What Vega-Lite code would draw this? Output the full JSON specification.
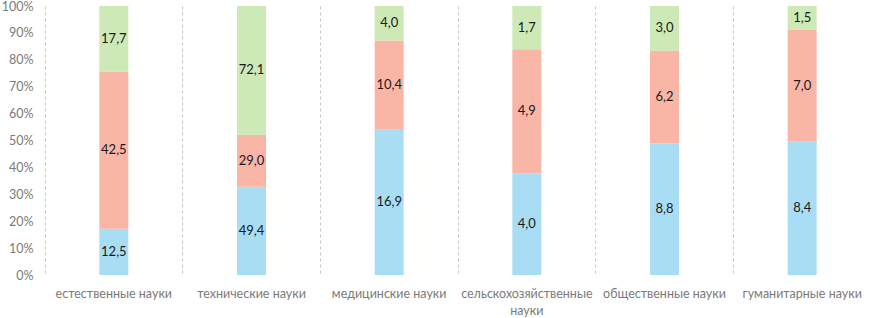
{
  "$schema": "https://vega.github.io/schema/vega-lite/v6.json",
  "width": 826,
  "height": 269,
  "autosize": {"type": "none"},
  "padding": {"left": 45, "top": 6, "right": 0, "bottom": 43},
  "config": {
    "view": {"stroke": null},
    "font": "Lato",
    "axis": {"labelOverlap": false},
    "locale": {"number": {"decimal": ",", "thousands": " ", "grouping": [3], "currency": ["", ""]}}
  },
  "data": {
    "values": [
      {"область": "естественные науки", "серия": "1", "значение": 12.5},
      {"область": "естественные науки", "серия": "2", "значение": 42.5},
      {"область": "естественные науки", "серия": "3", "значение": 17.7},
      {"область": "технические науки", "серия": "1", "значение": 49.4},
      {"область": "технические науки", "серия": "2", "значение": 29.0},
      {"область": "технические науки", "серия": "3", "значение": 72.1},
      {"область": "медицинские науки", "серия": "1", "значение": 16.9},
      {"область": "медицинские науки", "серия": "2", "значение": 10.4},
      {"область": "медицинские науки", "серия": "3", "значение": 4.0},
      {"область": "сельскохозяйственные науки", "серия": "1", "значение": 4.0},
      {"область": "сельскохозяйственные науки", "серия": "2", "значение": 4.9},
      {"область": "сельскохозяйственные науки", "серия": "3", "значение": 1.7},
      {"область": "общественные науки", "серия": "1", "значение": 8.8},
      {"область": "общественные науки", "серия": "2", "значение": 6.2},
      {"область": "общественные науки", "серия": "3", "значение": 3.0},
      {"область": "гуманитарные науки", "серия": "1", "значение": 8.4},
      {"область": "гуманитарные науки", "серия": "2", "значение": 7.0},
      {"область": "гуманитарные науки", "серия": "3", "значение": 1.5}
    ]
  },
  "encoding": {
    "x": {
      "field": "область",
      "type": "nominal",
      "sort": null,
      "scale": {"paddingInner": 0, "paddingOuter": 0},
      "axis": {
        "title": null,
        "labelAngle": 0,
        "labelFontSize": 12.5,
        "labelColor": "#7a7a7a",
        "labelPadding": 12,
        "labelLimit": 0,
        "labelLineHeight": 17,
        "labelExpr": "datum.label == 'сельскохозяйственные науки' ? ['сельскохозяйственные', 'науки'] : datum.label",
        "domain": false,
        "ticks": false,
        "grid": true,
        "bandPosition": 0,
        "gridColor": "#c8c8c8",
        "gridDash": [3, 3],
        "gridWidth": 1
      }
    },
    "order": {"field": "серия"}
  },
  "layer": [
    {
      "mark": {"type": "bar", "size": 29},
      "encoding": {
        "y": {
          "field": "значение",
          "type": "quantitative",
          "stack": "normalize",
          "scale": {"domain": [0, 1]},
          "axis": {
            "title": null,
            "format": ".0%",
            "values": [0, 0.1, 0.2, 0.3, 0.4, 0.5, 0.6, 0.7, 0.8, 0.9, 1],
            "labelOverlap": false,
            "labelFontSize": 12.5,
            "labelColor": "#7a7a7a",
            "labelPadding": 12,
            "domain": false,
            "ticks": false,
            "grid": false
          }
        },
        "color": {
          "field": "серия",
          "type": "nominal",
          "scale": {"domain": ["1", "2", "3"], "range": ["#a9ddf3", "#f9b5a6", "#cde9b6"]},
          "legend": null
        }
      }
    },
    {
      "mark": {"type": "text", "fontSize": 13, "color": "#1a1a1a", "baseline": "middle"},
      "encoding": {
        "y": {
          "field": "значение",
          "type": "quantitative",
          "stack": "normalize",
          "bandPosition": 0.5,
          "axis": {
            "title": null,
            "format": ".0%",
            "values": [0, 0.1, 0.2, 0.3, 0.4, 0.5, 0.6, 0.7, 0.8, 0.9, 1],
            "labelOverlap": false,
            "labelFontSize": 12.5,
            "labelColor": "#7a7a7a",
            "labelPadding": 12,
            "domain": false,
            "ticks": false,
            "grid": false
          }
        },
        "text": {"field": "значение", "type": "quantitative", "format": ".1f"}
      }
    }
  ]
}
